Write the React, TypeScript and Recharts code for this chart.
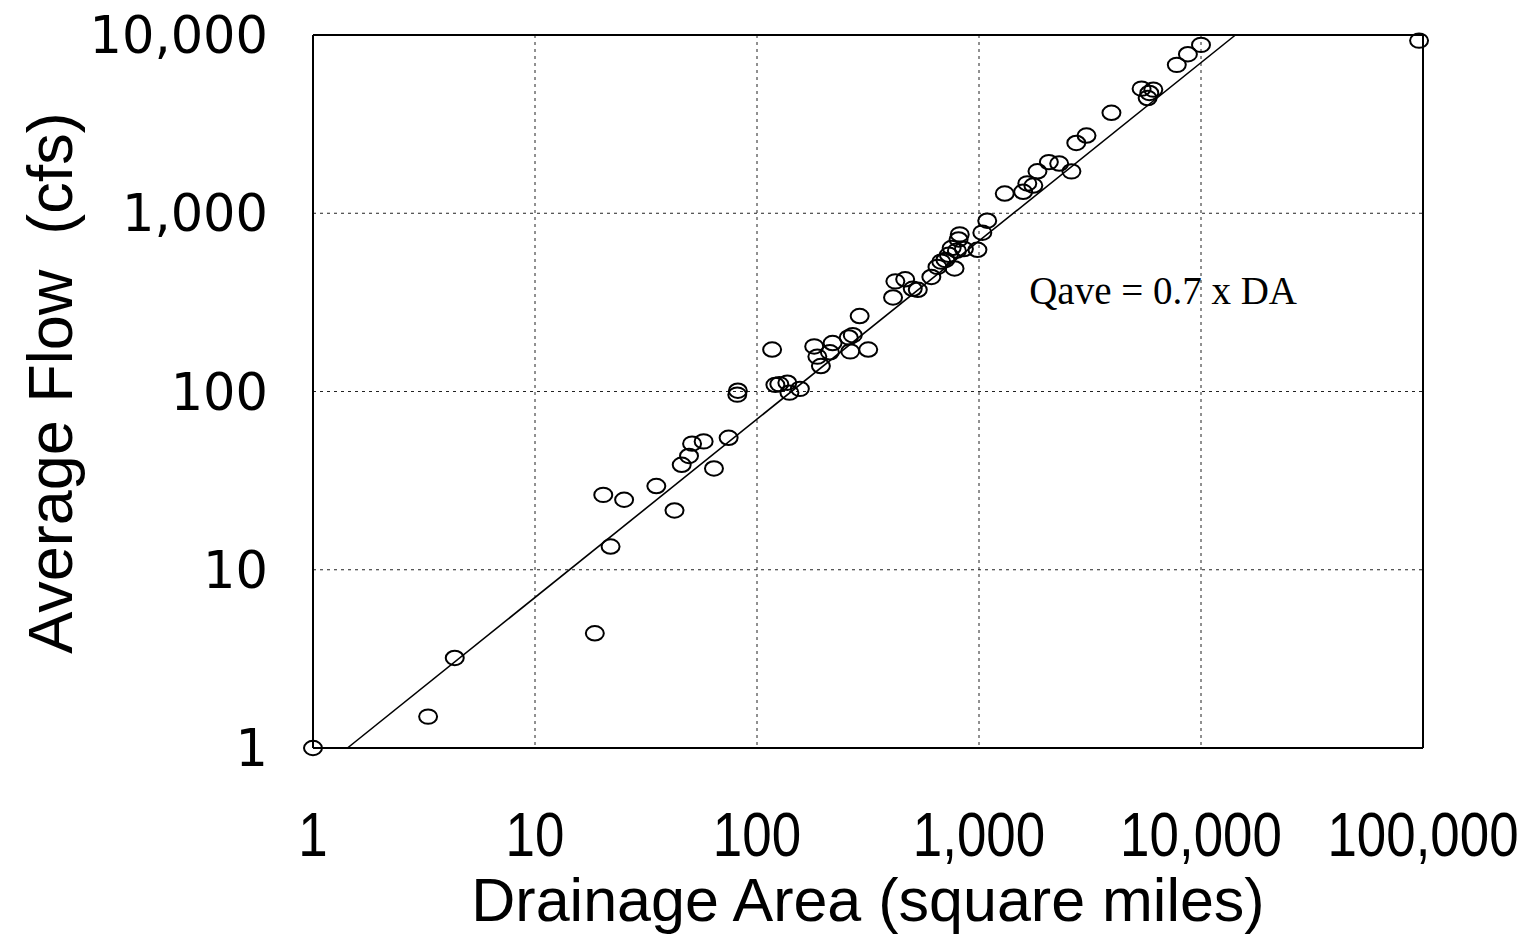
import { ScatterChart, Scatter, XAxis, YAxis, CartesianGrid, ReferenceLine, ReferenceDot } from 'recharts';

// gauged stations: drainage area (sq mi) and average flow (cfs)
const drainageArea = [
    1, 3.3, 4.35, 18.6, 20.3, 21.9, 25.2, 35.2, 42.5, 45.8,
    49.4, 51, 57.5, 64, 74.5, 81.5, 82, 117, 121, 126,
    137, 140, 156, 181, 187, 194, 213, 219, 259, 263,
    270, 290, 317, 410, 420, 465, 503, 530, 610, 650,
    676, 706, 731, 753, 795, 809, 776, 819, 855, 984,
    1035, 1089, 1306, 1581, 1650, 1757, 1834, 2064, 2297, 2608,
    2743, 3050, 3950, 5400, 5850, 5750, 6100, 7780, 8730, 10000,
    96000
];
const averageFlow = [
    1, 1.5, 3.2, 4.4, 26.3, 13.5, 24.7, 29.5, 21.5, 38.8,
    43.5, 51, 52.5, 37, 55, 96, 101, 172, 109, 110,
    112, 98.5, 103.5, 179, 157, 139, 166, 187, 201, 168,
    207, 265, 172, 337, 415, 426, 377, 372, 439, 500,
    535, 547, 585, 638, 617, 713, 490, 761, 630, 624,
    778, 908, 1290, 1320, 1470, 1430, 1720, 1936, 1901, 1718,
    2480, 2730, 3660, 5000, 4730, 4430, 4940, 6800, 7800, 8800,
    9300
];

// Qave = 0.7 x DA, drawn between the plot edges
const fitArea = [1.43, 14290];
const fitFlow = [1, 10000];

const xTicks = [1, 10, 100, 1000, 10000, 100000];
const yTicks = [1, 10, 100, 1000, 10000];

const stations = drainageArea.map((a, i) => ({ x: a, y: averageFlow[i] }));
const fitLine = fitArea.map((a, i) => ({ x: a, y: fitFlow[i] }));

const fmt = (v: number) => v.toLocaleString('en-US');

function XTick({ x, y, payload }: any) {
    // the original axis font is a condensed sans
    return (
        <text transform={`translate(${x},${y}) scale(0.84,1)`} x={0} y={0} dy={100} textAnchor="middle" fill="#000"
            fontFamily="'Liberation Sans', Arial" fontSize={63}>
            {fmt(payload.value)}
        </text>
    )
}

function YTick({ x, y, payload }: any) {
    return (
        <text x={x - 37} y={y} dy={18} textAnchor="end" fill="#000"
            fontFamily="'DejaVu Sans', sans-serif" fontSize={51}>
            {fmt(payload.value)}
        </text>
    )
}

function YTitle() {
    return (
        <text transform="translate(72,383) rotate(-90)" textAnchor="middle" fill="#000"
            fontFamily="'Liberation Sans', Arial" fontSize={63}>
            {'Average Flow\u00a0\u00a0(cfs)'}
        </text>
    )
}

function Ring({ cx, cy }: any) {
    return <ellipse cx={cx} cy={cy} rx={9} ry={7.2} fill="none" stroke="#000" strokeWidth={2} />
}

export default function App() {
    return (
        <div style={{ position: 'absolute', left: 0, top: 0, background: '#fff' }}>
            <ScatterChart width={1536} height={939} margin={{ top: 35, right: 113, left: 0, bottom: 0 }}>
                <CartesianGrid stroke="#222" strokeDasharray="3 4" strokeWidth={1} />
                <XAxis type="number" dataKey="x" scale="log" domain={[1, 100000]} ticks={xTicks}
                    height={191} tickLine={false}
                    axisLine={{ stroke: '#000', strokeWidth: 2 }} tick={<XTick />}
                    label={{
                        value: 'Drainage Area (square miles)', position: 'insideBottom', offset: 18,
                        style: { fontFamily: "'Liberation Sans', Arial", fontSize: 61, fill: '#000' }
                    }} />
                <YAxis type="number" dataKey="y" scale="log" domain={[1, 10000]} ticks={yTicks}
                    width={313} tickLine={false}
                    axisLine={{ stroke: '#000', strokeWidth: 2 }} tick={<YTick />}
                    label={<YTitle />} />
                <ReferenceLine y={10000} stroke="#000" strokeWidth={2} />
                <ReferenceLine x={100000} stroke="#000" strokeWidth={2} />
                <Scatter data={fitLine} line={{ stroke: '#000', strokeWidth: 1.6 }} lineType="joint"
                    shape={() => <g />} isAnimationActive={false} />
                <Scatter data={stations} shape={<Ring />} isAnimationActive={false} />
                <ReferenceDot x={6750} y={370} r={0} stroke="none"
                    label={{
                        value: 'Qave = 0.7 x DA', position: 'center',
                        style: { fontFamily: "'Liberation Serif', 'Times New Roman', serif", fontSize: 39, fill: '#000' }
                    }} />
            </ScatterChart>
        </div>
    )
}
